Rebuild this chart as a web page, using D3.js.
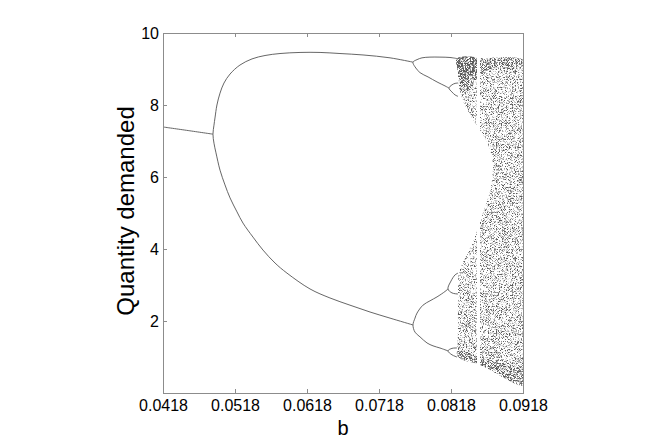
<!DOCTYPE html>
<html>
<head>
<meta charset="utf-8">
<script src="https://cdnjs.cloudflare.com/ajax/libs/d3/7.8.5/d3.min.js"></script>
<style>
  body { margin: 0; background: #fff; }
  svg text { font-family: "Liberation Sans", Arial, sans-serif; fill: #000; }
  .axis path, .axis line { stroke: #8c8c8c; stroke-width: 1; shape-rendering: crispEdges; }
  .axis text { font-size: 16px; }
</style>
</head>
<body>
<div id="chart"></div>
<script>
// tick values
var xTicks = [0.0418, 0.0518, 0.0618, 0.0718, 0.0818, 0.0918];
var yTicks = [2, 4, 6, 8, 10];

// period-1 branch
var p1B = [0.0418, 0.0453, 0.04874];
var p1Q = [7.39, 7.29, 7.19];

// period-2 loop (lower branch right->left, then upper branch left->right)
var p2B = [0.07652, 0.07333, 0.07055, 0.06777, 0.06499, 0.06222, 0.05902, 0.05736, 0.05569, 0.05430, 0.05291, 0.05208, 0.05111, 0.05041, 0.04972, 0.04916, 0.04888, 0.04874,
           0.04888, 0.04902, 0.04929, 0.04972, 0.05027, 0.05111, 0.05249, 0.05416, 0.05597, 0.05805, 0.06083, 0.06361, 0.06638, 0.06958, 0.07333, 0.07652];
var p2Q = [1.89, 2.08, 2.25, 2.44, 2.64, 2.89, 3.33, 3.61, 3.97, 4.33, 4.72, 5.03, 5.42, 5.78, 6.19, 6.67, 6.94, 7.19,
           7.44, 7.64, 8.00, 8.33, 8.61, 8.86, 9.11, 9.28, 9.375, 9.43, 9.46, 9.46, 9.43, 9.39, 9.31, 9.19];

// period-4, upper pair
var p4uB = [0.08263, 0.08166, 0.08027, 0.07888, 0.07777, 0.07708, 0.07652, 0.07680, 0.07749, 0.07861, 0.07986, 0.08097, 0.08152];
var p4uQ = [9.29, 9.32, 9.33, 9.33, 9.31, 9.26, 9.19, 9.06, 8.90, 8.78, 8.64, 8.53, 8.47];

// period-4, lower pair
var p4lB = [0.08138, 0.08097, 0.07986, 0.07888, 0.07791, 0.07708, 0.07680, 0.07652, 0.07680, 0.07749, 0.07847, 0.07930, 0.08027, 0.08138];
var p4lQ = [2.89, 2.82, 2.67, 2.56, 2.44, 2.22, 2.08, 1.89, 1.69, 1.56, 1.39, 1.31, 1.25, 1.17];

// period-8 small loops
var p8aB = [0.08277, 0.08236, 0.08194, 0.08152, 0.08194, 0.08236, 0.08277];
var p8aQ = [8.61, 8.60, 8.56, 8.47, 8.36, 8.28, 8.24];
var p8bB = [0.08277, 0.08236, 0.08180, 0.08138, 0.08194, 0.08277];
var p8bQ = [3.33, 3.28, 3.11, 2.89, 2.78, 2.75];
var p8cB = [0.08263, 0.08194, 0.08138, 0.08194, 0.08263];
var p8cQ = [1.25, 1.24, 1.17, 1.06, 1.00];

// outline of the chaotic band
var chaosB = [0.08263, 0.08444, 0.08722, 0.08999, 0.0918, 0.0918, 0.08999, 0.08861, 0.08722, 0.08583, 0.08444, 0.08347, 0.08277,
              0.08277, 0.08277, 0.08291, 0.08360, 0.08458, 0.08555, 0.08638, 0.08708, 0.08749, 0.08763, 0.08722, 0.08652,
              0.08555, 0.08458, 0.08374, 0.08319, 0.08291, 0.08277];
var chaosQ = [9.29, 9.31, 9.29, 9.28, 9.25, 0.22, 0.39, 0.53, 0.67, 0.78, 0.89, 0.96, 1.00,
              1.75, 2.58, 3.33, 3.69, 4.08, 4.58, 5.08, 5.50, 5.92, 6.33, 6.75, 7.08,
              7.39, 7.69, 8.00, 8.28, 8.56, 8.92];

// denser parts of the chaotic band (top strip, bottom strip)
var denseTopB = [0.08263, 0.08541, 0.0918, 0.0918, 0.08722, 0.08555, 0.08444, 0.08333, 0.08291, 0.08277];
var denseTopQ = [9.29, 9.30, 9.25, 9.00, 9.00, 8.75, 8.47, 8.25, 8.56, 8.92];
var darkTopB = [0.08263, 0.08541, 0.08541, 0.08430, 0.08333, 0.08291, 0.08277];
var darkTopQ = [9.29, 9.30, 8.90, 8.80, 8.60, 8.70, 8.95];
var denseBotB = [0.08277, 0.08583, 0.0918, 0.0918, 0.08722, 0.08347, 0.08277];
var denseBotQ = [1.00, 0.78, 0.22, 0.60, 0.92, 1.20, 1.33];

// periodic window (empty stripe)
var windowB = [0.08541, 0.08583];
var windowQ = [0.70, 9.40];

var margin = {top: 33, right: 141, bottom: 51, left: 163},
    width = 664 - margin.left - margin.right,
    height = 444 - margin.top - margin.bottom;

var x = d3.scaleLinear().domain([0.0418, 0.0918]).range([0, width]);
var y = d3.scaleLinear().domain([0, 10]).range([height, 0]);

var svg = d3.select("#chart")
    .append("svg")
      .attr("width", 664)
      .attr("height", 444)
    .append("g")
      .attr("transform", "translate(" + margin.left + "," + margin.top + ")");

var defs = svg.append("defs");

defs.append("clipPath")
    .attr("id", "plotClip")
  .append("rect")
    .attr("width", width)
    .attr("height", height);

// stipple texture made from noise, kept inside the shape it is applied to
function speckle(id, threshold) {
  var f = defs.append("filter")
      .attr("id", id)
      .attr("filterUnits", "userSpaceOnUse")
      .attr("x", -margin.left).attr("y", -margin.top)
      .attr("width", 664).attr("height", 444);
  f.append("feTurbulence")
      .attr("type", "fractalNoise")
      .attr("baseFrequency", 1.37)
      .attr("numOctaves", 1)
      .attr("seed", 11)
      .attr("result", "noise");
  var s = 5;
  f.append("feColorMatrix")
      .attr("in", "noise")
      .attr("type", "matrix")
      .attr("values", "0 0 0 0 0.1  0 0 0 0 0.1  0 0 0 0 0.1  " + s + " 0 0 0 " + (-s * threshold))
      .attr("result", "dots");
  f.append("feComposite")
      .attr("in", "dots")
      .attr("in2", "SourceGraphic")
      .attr("operator", "in");
}
speckle("speckLight", 0.49);
speckle("speckDense", 0.43);
speckle("speckDark", 0.36);

function pts(bs, qs) { return d3.zip(bs, qs); }

var outline = d3.line()
    .x(function(d) { return x(d[0]); })
    .y(function(d) { return y(d[1]); })
    .curve(d3.curveCatmullRomClosed.alpha(0.5));

var branch = d3.line()
    .x(function(d) { return x(d[0]); })
    .y(function(d) { return y(d[1]); })
    .curve(d3.curveCatmullRom.alpha(0.5));

var plot = svg.append("g").attr("clip-path", "url(#plotClip)");

// chaotic band
[[chaosB, chaosQ, "speckLight"], [denseTopB, denseTopQ, "speckDense"], [darkTopB, darkTopQ, "speckDark"], [denseBotB, denseBotQ, "speckDense"]].forEach(function(s) {
  plot.append("path")
      .attr("d", outline(pts(s[0], s[1])))
      .style("fill", "#000")
      .attr("filter", "url(#" + s[2] + ")");
});

// periodic window
plot.append("rect")
    .attr("x", x(windowB[0]))
    .attr("width", x(windowB[1]) - x(windowB[0]))
    .attr("y", y(windowQ[1]))
    .attr("height", y(windowQ[0]) - y(windowQ[1]))
    .style("fill", "#fff");

// periodic branches
[[p1B, p1Q], [p2B, p2Q], [p4uB, p4uQ], [p4lB, p4lQ], [p8aB, p8aQ], [p8bB, p8bQ], [p8cB, p8cQ]].forEach(function(s) {
  plot.append("path")
      .attr("d", branch(pts(s[0], s[1])))
      .style("fill", "none")
      .style("stroke", "#555")
      .style("stroke-width", 0.9);
});

// axes, ticks pointing inward
svg.append("g")
    .attr("class", "axis")
    .attr("transform", "translate(0," + height + ")")
    .call(d3.axisBottom(x).tickValues(xTicks).tickSize(-4).tickPadding(7).tickFormat(d3.format(".4f")));
svg.append("g")
    .attr("class", "axis")
    .call(d3.axisTop(x).tickValues(xTicks).tickSize(-4).tickFormat(""));
svg.append("g")
    .attr("class", "axis")
    .call(d3.axisLeft(y).tickValues(yTicks).tickSize(-4).tickPadding(4).tickFormat(d3.format("d")));
svg.append("g")
    .attr("class", "axis")
    .attr("transform", "translate(" + width + ",0)")
    .call(d3.axisRight(y).tickValues(yTicks).tickSize(-4).tickFormat(""));

// axis labels
svg.append("text")
    .attr("x", width / 2)
    .attr("y", height + 42)
    .style("text-anchor", "middle")
    .style("font-size", "20px")
    .text("b");

svg.append("text")
    .attr("transform", "rotate(-90)")
    .attr("x", -(height / 2) + 2)
    .attr("y", -29)
    .style("text-anchor", "middle")
    .style("font-size", "24px")
    .text("Quantity demanded");
</script>
</body>
</html>
